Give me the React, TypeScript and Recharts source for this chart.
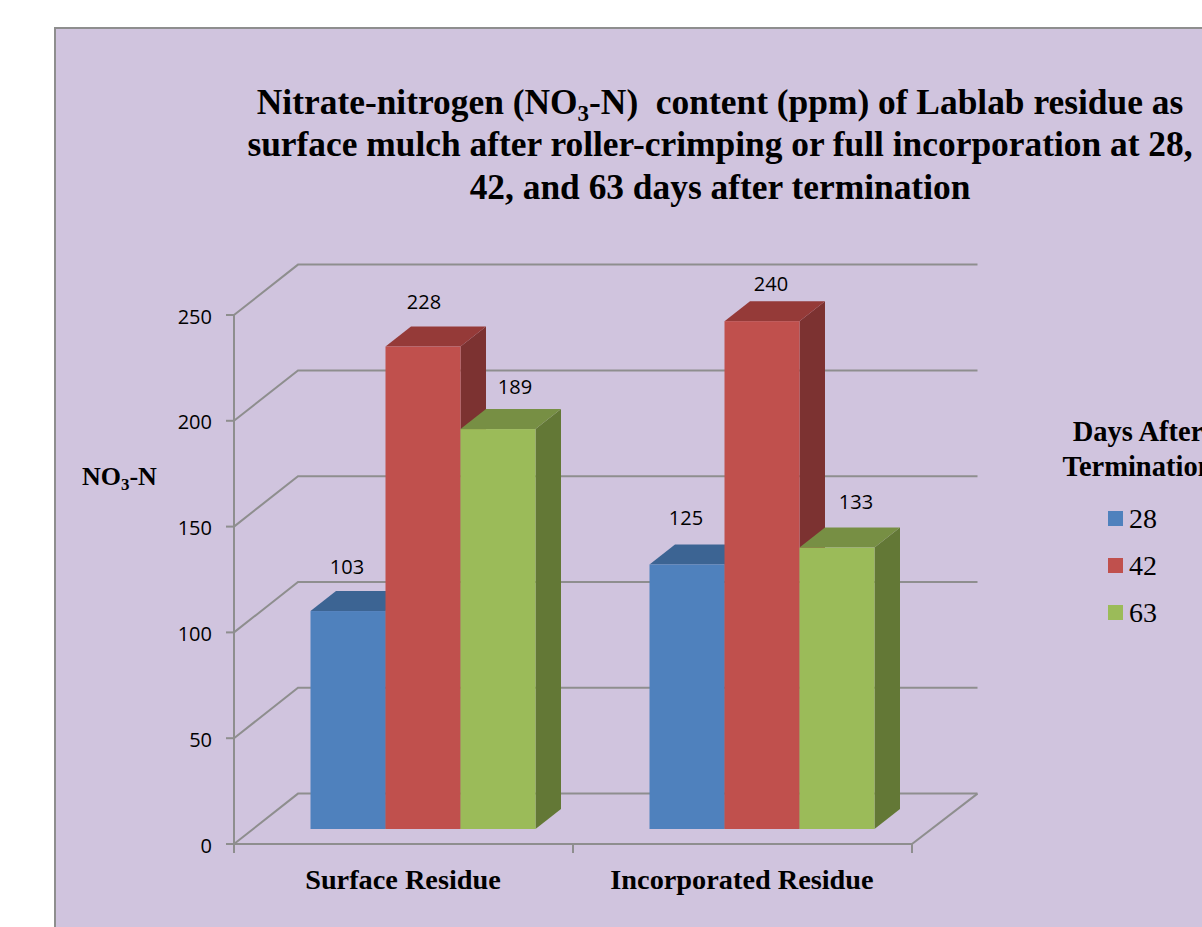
import React from "react";
import { BarChart, Bar, XAxis, YAxis, CartesianGrid, Legend, LabelList } from "recharts";

const categories = ["Surface Residue", "Incorporated Residue"];
const days28 = [103, 125];
const days42 = [228, 240];
const days63 = [189, 133];
const yTicks = [0, 50, 100, 150, 200, 250];
const seriesNames = ["28", "42", "63"];

const rows = categories.map((name, i) => ({
  name,
  d28: days28[i],
  d42: days42[i],
  d63: days63[i],
}));

const GREY = "#8E8E8E";
const SERIF = "'Liberation Serif', serif";
const SANS = "'Open Sans', sans-serif";
const PLOT_LEFT = 234;
const PLOT_TOP = 315;
const PLOT_W = 678;
const PLOT_H = 529;
const WALL_DX = 64;
const WALL_DY = -50;
const WALL_END_EXTRA = 1.5;
const BAR_DX = 20;
const BAR_DY = -15;
const BOX_DX = 25.5;
const BOX_DY = -20;

const palettes = [
  { front: "#4F81BD", top: "#3C6493", side: "#2F4E74" },
  { front: "#C0504D", top: "#953A38", side: "#7C3231" },
  { front: "#9BBB59", top: "#778F44", side: "#637836" },
];

// label placement relative to the front face of each bar: [series][category] -> [dx, dy]
const labelNudge = [
  [[-1, -45], [-1, -47]],
  [[1, -45], [9, -38]],
  [[17, -43], [19, -46]],
];

function Box3D(props: any) {
  const { x, y, width, height, palette } = props;
  const l = x + BAR_DX;
  const t = y + BAR_DY;
  const r = l + width;
  const b = t + height;
  return (
    <g>
      <polygon
        points={`${r},${t} ${r + BOX_DX},${t + BOX_DY} ${r + BOX_DX},${b + BOX_DY} ${r},${b}`}
        fill={palette.side}
      />
      <polygon
        points={`${l},${t} ${l + BOX_DX},${t + BOX_DY} ${r + BOX_DX},${t + BOX_DY} ${r},${t}`}
        fill={palette.top}
      />
      <rect x={l} y={t} width={width} height={height} fill={palette.front} />
    </g>
  );
}

function WallLine(props: any) {
  const { x1, x2, y1 } = props;
  const isFloor = Math.abs(y1 - (PLOT_TOP + PLOT_H)) < 1;
  const yb = y1 + WALL_DY - 0.4;
  return (
    <g key={`wall-${y1}`}>
      <polyline
        points={`${x1},${y1} ${x1 + WALL_DX},${yb} ${x2 + WALL_DX + WALL_END_EXTRA},${yb}`}
        fill="none"
        stroke={GREY}
        strokeWidth={2}
      />
      {isFloor && (
        <line x1={x2} y1={y1} x2={x2 + WALL_DX + WALL_END_EXTRA} y2={yb} stroke={GREY} strokeWidth={2} />
      )}
    </g>
  );
}

function CategoryTick(props: any) {
  const { x, y, payload, index } = props;
  const half = PLOT_W / categories.length / 2;
  const last = index === categories.length - 1;
  return (
    <g>
      <line x1={x - half} y1={y - 8} x2={x - half} y2={y + 1} stroke={GREY} strokeWidth={2} />
      {last && <line x1={x + half} y1={y - 8} x2={x + half} y2={y + 1} stroke={GREY} strokeWidth={2} />}
      <text
        x={x - 0.5}
        y={PLOT_TOP + PLOT_H + 45}
        textAnchor="middle"
        fontFamily={SERIF}
        fontWeight="bold"
        fontSize={28.3}
        fill="#000"
      >
        {payload.value}
      </text>
    </g>
  );
}

function makeLabel(series: number) {
  return function ValueLabel(props: any) {
    const { x, y, width, value, index } = props;
    const [dx, dy] = labelNudge[series][index];
    return (
      <text
        x={x + BAR_DX + width / 2 + dx}
        y={y + BAR_DY + dy}
        textAnchor="middle"
        dominantBaseline="central"
        fontFamily={SANS}
        fontSize={20}
        fill="#000"
      >
        {value}
      </text>
    );
  };
}

function YTick(props: any) {
  const { x, y, payload } = props;
  return (
    <text x={x} y={y + 1} textAnchor="end" dominantBaseline="central" fontFamily={SANS} fontSize={20} fill="#000">
      {payload.value}
    </text>
  );
}

function LegendBox(props: any) {
  const items = props.payload || [];
  return (
    <div style={{ position: "relative", width: 300, height: 220, fontFamily: SERIF, color: "#000" }}>
      <div
        style={{
          position: "absolute",
          left: 0,
          top: -1,
          width: 276,
          textAlign: "center",
          fontWeight: "bold",
          fontSize: 28.5,
          lineHeight: "35px",
        }}
      >
        Days After
        <br />
        Termination
      </div>
      {items.map((it: any, i: number) => (
        <div key={it.value} style={{ position: "absolute", left: 108, top: 88 + i * 47 }}>
          <span
            style={{ position: "absolute", left: 0, top: 8, width: 15, height: 15, background: palettes[i].front }}
          />
          <span
            style={{ position: "absolute", left: 21, top: 0, fontFamily: SERIF, fontSize: 28, lineHeight: "32px" }}
          >
            {it.value}
          </span>
        </div>
      ))}
    </div>
  );
}

const Sub = ({ children }: any) => (
  <span style={{ fontSize: "65%", verticalAlign: "-0.3em", lineHeight: 0 }}>{children}</span>
);

const titleLine: React.CSSProperties = {
  position: "absolute",
  left: 220,
  width: 1000,
  textAlign: "center",
  whiteSpace: "pre",
  fontFamily: SERIF,
  fontWeight: "bold",
  fontSize: 35.4,
  lineHeight: "44px",
  color: "#000",
};

export default function App() {
  return (
    <div style={{ position: "absolute", left: 0, top: 0, width: 1202, height: 927, overflow: "hidden", background: "#fff" }}>
      <div
        style={{
          position: "absolute",
          left: 54,
          top: 27,
          width: 1300,
          height: 1100,
          boxSizing: "border-box",
          background: "#D0C4DE",
          border: `2px solid ${GREY}`,
        }}
      />
      <div style={{ position: "absolute", left: 0, top: 0 }}>
        <BarChart
          width={1202}
          height={927}
          data={rows}
          margin={{ top: PLOT_TOP, right: 1202 - PLOT_LEFT - PLOT_W, bottom: 0, left: 0 }}
          barCategoryGap={56.5}
          barGap={0}
        >
          <CartesianGrid vertical={false} horizontal={WallLine as any} />
          <XAxis
            dataKey="name"
            height={927 - PLOT_TOP - PLOT_H}
            tick={CategoryTick as any}
            tickLine={false}
            tickMargin={0}
            tickSize={8}
            axisLine={{ stroke: GREY, strokeWidth: 2 }}
            interval={0}
          />
          <YAxis
            width={PLOT_LEFT}
            domain={[0, 250]}
            ticks={yTicks}
            interval={0}
            tickSize={8}
            tickMargin={14}
            axisLine={{ stroke: GREY, strokeWidth: 2 }}
            tickLine={{ stroke: GREY, strokeWidth: 2 }}
            tick={YTick as any}
          />
          <Legend
            layout="vertical"
            align="center"
            verticalAlign="middle"
            content={LegendBox as any}
            wrapperStyle={{ position: "absolute", left: 1000, top: 415, width: 300, height: 220 }}
          />
          <Bar
            dataKey="d28"
            name={seriesNames[0]}
            fill={palettes[0].front}
            isAnimationActive={false}
            shape={(p: any) => <Box3D {...p} palette={palettes[0]} />}
          >
            <LabelList dataKey="d28" content={makeLabel(0) as any} />
          </Bar>
          <Bar
            dataKey="d42"
            name={seriesNames[1]}
            fill={palettes[1].front}
            isAnimationActive={false}
            shape={(p: any) => <Box3D {...p} palette={palettes[1]} />}
          >
            <LabelList dataKey="d42" content={makeLabel(1) as any} />
          </Bar>
          <Bar
            dataKey="d63"
            name={seriesNames[2]}
            fill={palettes[2].front}
            isAnimationActive={false}
            shape={(p: any) => <Box3D {...p} palette={palettes[2]} />}
          >
            <LabelList dataKey="d63" content={makeLabel(2) as any} />
          </Bar>
        </BarChart>
      </div>
      <div style={{ ...titleLine, top: 80 }}>
        Nitrate-nitrogen (NO<Sub>3</Sub>-N)  content (ppm) of Lablab residue as
      </div>
      <div style={{ ...titleLine, top: 122 }}>
        surface mulch after roller-crimping or full incorporation at 28,
      </div>
      <div style={{ ...titleLine, top: 165 }}>42, and 63 days after termination</div>
      <div
        style={{
          position: "absolute",
          left: 82,
          top: 462,
          fontFamily: SERIF,
          fontWeight: "bold",
          fontSize: 26,
          lineHeight: "30px",
          color: "#000",
          whiteSpace: "pre",
        }}
      >
        NO<Sub>3</Sub>-N
      </div>
    </div>
  );
}
